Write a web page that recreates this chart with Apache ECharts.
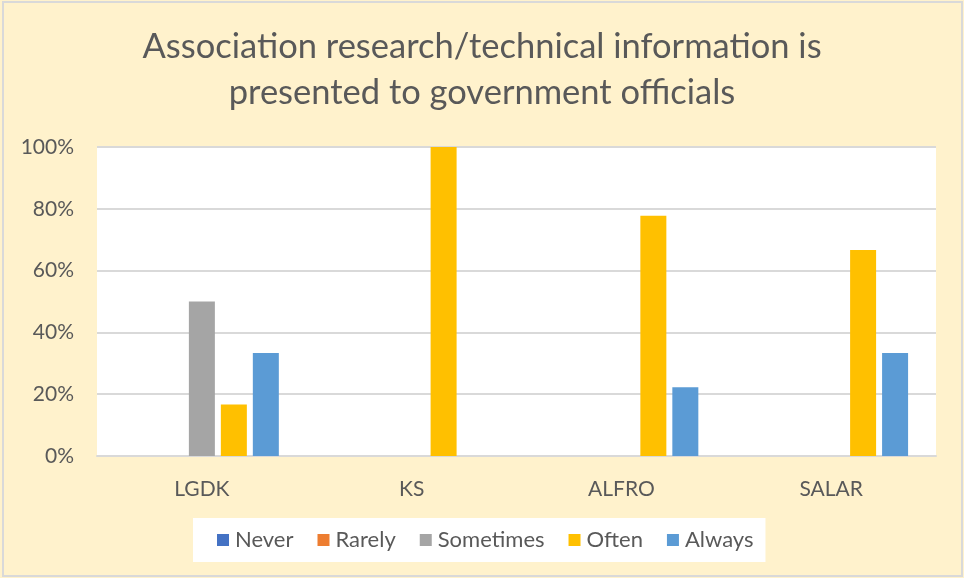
<!DOCTYPE html>
<html>
<head>
<meta charset="utf-8">
<script src="https://cdn.jsdelivr.net/npm/echarts@6/dist/echarts.min.js"></script>
<style>
  html, body { margin: 0; padding: 0; background: #fff2cc; }
  #chart { width: 964px; height: 578px; }
</style>
</head>
<body>
<div id="chart"></div>
<script>
// groups on the x axis
const categories = ['LGDK', 'KS', 'ALFRO', 'SALAR'];
// answer shares in percent, one array per answer
const never = [0, 0, 0, 0];
const rarely = [0, 0, 0, 0];
const sometimes = [50, 0, 0, 0];
const often = [16.67, 100, 77.78, 66.67];
const always = [33.33, 0, 22.22, 33.33];

const seriesNames = ['Never', 'Rarely', 'Sometimes', 'Often', 'Always'];
const seriesData = [never, rarely, sometimes, often, always];
const colors = ['#4472c4', '#ed7d31', '#a5a5a5', '#ffc000', '#5b9bd5'];

const font = 'Lato, "Open Sans", sans-serif';

let chart = echarts.init(document.getElementById('chart'));
chart.setOption({
  backgroundColor: '#fff2cc',
  animation: false,
  color: colors,
  title: {
    text: 'Association research/technical information is\npresented to government officials',
    left: 'center',
    top: 19,
    textStyle: { fontFamily: font, fontSize: 34.5, fontWeight: 'normal', color: '#595959', lineHeight: 46 }
  },
  legend: {
    bottom: 16,
    left: 193,
    itemWidth: 12,
    itemHeight: 12,
    itemGap: 24,
    padding: [11, 12, 11, 24],
    backgroundColor: '#ffffff',
    icon: 'rect',
    selectedMode: false,
    textStyle: { fontFamily: font, fontSize: 22, color: '#595959', padding: [0, 0, 0, 1] },
    data: seriesNames
  },
  graphic: [{
    type: 'rect',
    shape: { x: 3, y: 2, width: 959, height: 574 },
    style: { fill: 'none', stroke: '#d9d9d9', lineWidth: 2 },
    silent: true
  }],
  grid: {
    left: 97, right: 28, top: 147, bottom: 122,
    show: true, backgroundColor: '#ffffff', borderWidth: 0
  },
  xAxis: {
    type: 'category',
    data: categories,
    axisLine: { lineStyle: { color: '#d9d9d9', width: 2 } },
    axisTick: { show: false },
    axisLabel: { fontFamily: font, fontSize: 21, color: '#595959', margin: 23 }
  },
  yAxis: {
    type: 'value',
    min: 0, max: 100, interval: 20,
    axisLine: { show: false },
    axisTick: { show: false },
    splitLine: { lineStyle: { color: '#d9d9d9', width: 2 } },
    axisLabel: { fontFamily: font, fontSize: 21, color: '#595959', margin: 23, formatter: '{value}%' }
  },
  series: seriesNames.map((name, i) => ({
    name: name,
    type: 'bar',
    data: seriesData[i],
    barWidth: 26,
    barGap: '23%',
    itemStyle: { color: colors[i] }
  }))
});
</script>
</body>
</html>
